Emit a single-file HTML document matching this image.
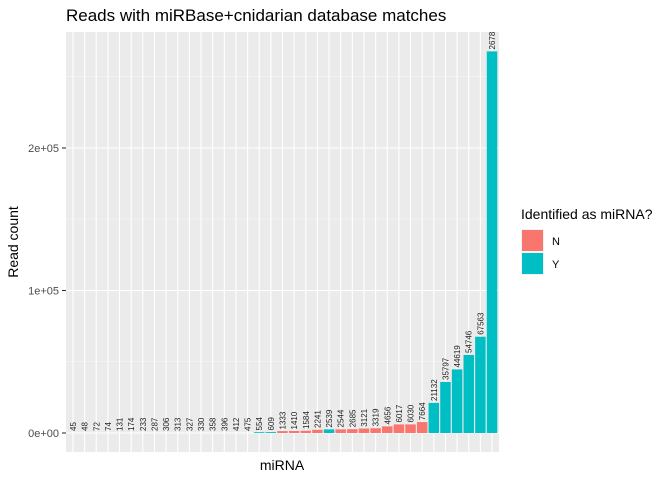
<!DOCTYPE html>
<html><head><meta charset="utf-8"><style>body{margin:0;background:#fff}svg{display:block;font-family:"Liberation Sans",sans-serif}</style></head><body>
<svg width="672" height="480" viewBox="0 0 672 480">
<rect x="66" y="32" width="433" height="420" fill="#EBEBEB"/>
<g stroke="#F5F5F5" stroke-width="0.6"><line x1="66" x2="499" y1="361.7" y2="361.7"/><line x1="66" x2="499" y1="219" y2="219"/><line x1="66" x2="499" y1="76.3" y2="76.3"/></g>
<g stroke="#fff" stroke-width="1.1"><line x1="66" x2="499" y1="433" y2="433"/><line x1="66" x2="499" y1="290.5" y2="290.5"/><line x1="66" x2="499" y1="148" y2="148"/></g>
<g stroke="#fff" stroke-width="1.1" id="vg">
<line x1="72.98" x2="72.98" y1="32" y2="452"/><line x1="84.62" x2="84.62" y1="32" y2="452"/><line x1="96.26" x2="96.26" y1="32" y2="452"/><line x1="107.9" x2="107.9" y1="32" y2="452"/><line x1="119.54" x2="119.54" y1="32" y2="452"/><line x1="131.18" x2="131.18" y1="32" y2="452"/><line x1="142.82" x2="142.82" y1="32" y2="452"/><line x1="154.46" x2="154.46" y1="32" y2="452"/><line x1="166.1" x2="166.1" y1="32" y2="452"/><line x1="177.74" x2="177.74" y1="32" y2="452"/><line x1="189.38" x2="189.38" y1="32" y2="452"/><line x1="201.02" x2="201.02" y1="32" y2="452"/><line x1="212.66" x2="212.66" y1="32" y2="452"/><line x1="224.3" x2="224.3" y1="32" y2="452"/><line x1="235.94" x2="235.94" y1="32" y2="452"/><line x1="247.58" x2="247.58" y1="32" y2="452"/><line x1="259.22" x2="259.22" y1="32" y2="452"/><line x1="270.86" x2="270.86" y1="32" y2="452"/><line x1="282.5" x2="282.5" y1="32" y2="452"/><line x1="294.14" x2="294.14" y1="32" y2="452"/><line x1="305.78" x2="305.78" y1="32" y2="452"/><line x1="317.42" x2="317.42" y1="32" y2="452"/><line x1="329.06" x2="329.06" y1="32" y2="452"/><line x1="340.7" x2="340.7" y1="32" y2="452"/><line x1="352.34" x2="352.34" y1="32" y2="452"/><line x1="363.98" x2="363.98" y1="32" y2="452"/><line x1="375.62" x2="375.62" y1="32" y2="452"/><line x1="387.26" x2="387.26" y1="32" y2="452"/><line x1="398.9" x2="398.9" y1="32" y2="452"/><line x1="410.54" x2="410.54" y1="32" y2="452"/><line x1="422.18" x2="422.18" y1="32" y2="452"/><line x1="433.82" x2="433.82" y1="32" y2="452"/><line x1="445.46" x2="445.46" y1="32" y2="452"/><line x1="457.1" x2="457.1" y1="32" y2="452"/><line x1="468.74" x2="468.74" y1="32" y2="452"/><line x1="480.38" x2="480.38" y1="32" y2="452"/><line x1="492.02" x2="492.02" y1="32" y2="452"/>
</g>
<g fill="#F8766D">
<rect x="277.26" y="431.1" width="10.48" height="1.9"/><rect x="288.9" y="431" width="10.48" height="2"/><rect x="300.54" y="430.74" width="10.48" height="2.26"/><rect x="312.18" y="429.81" width="10.48" height="3.19"/>
<rect x="335.46" y="429.37" width="10.48" height="3.63"/><rect x="347.1" y="429.17" width="10.48" height="3.83"/><rect x="358.74" y="428.55" width="10.48" height="4.45"/><rect x="370.38" y="428.27" width="10.48" height="4.73"/><rect x="382.02" y="426.37" width="10.48" height="6.63"/><rect x="393.66" y="424.43" width="10.48" height="8.57"/><rect x="405.3" y="424.41" width="10.48" height="8.59"/><rect x="416.94" y="422.08" width="10.48" height="10.92"/>
</g>
<g fill="#00BFC4">
<rect x="253.98" y="432.2" width="10.48" height="0.8"/><rect x="265.62" y="432.1" width="10.48" height="0.9"/><rect x="323.82" y="429.38" width="10.48" height="3.62"/>
<rect x="428.58" y="402.89" width="10.48" height="30.11"/><rect x="440.22" y="381.99" width="10.48" height="51.01"/><rect x="451.86" y="369.42" width="10.48" height="63.58"/><rect x="463.5" y="354.99" width="10.48" height="78.01"/><rect x="475.14" y="336.72" width="10.48" height="96.28"/><rect x="486.78" y="51.4" width="10.48" height="381.6"/>
</g>
<g font-size="8" fill="#222">
<text transform="translate(75.98,431) rotate(-90)">45</text><text transform="translate(87.62,431) rotate(-90)">48</text><text transform="translate(99.26,431) rotate(-90)">72</text><text transform="translate(110.9,431) rotate(-90)">74</text><text transform="translate(122.54,431) rotate(-90)">131</text><text transform="translate(134.18,431) rotate(-90)">174</text><text transform="translate(145.82,431) rotate(-90)">233</text><text transform="translate(157.46,431) rotate(-90)">287</text><text transform="translate(169.1,431) rotate(-90)">306</text><text transform="translate(180.74,431) rotate(-90)">313</text><text transform="translate(192.38,431) rotate(-90)">327</text><text transform="translate(204.02,431) rotate(-90)">330</text><text transform="translate(215.66,431) rotate(-90)">358</text><text transform="translate(227.3,431) rotate(-90)">396</text><text transform="translate(238.94,431) rotate(-90)">412</text><text transform="translate(250.58,431) rotate(-90)">475</text>
<text transform="translate(262.22,430.5) rotate(-90)">554</text><text transform="translate(273.86,430.5) rotate(-90)">609</text><text transform="translate(285.5,429.5) rotate(-90)">1333</text><text transform="translate(297.14,429.5) rotate(-90)">1410</text><text transform="translate(308.78,429) rotate(-90)">1584</text><text transform="translate(320.42,428) rotate(-90)">2241</text><text transform="translate(332.06,427.5) rotate(-90)">2539</text><text transform="translate(343.7,427.5) rotate(-90)">2544</text><text transform="translate(355.34,427.3) rotate(-90)">2685</text><text transform="translate(366.98,426.7) rotate(-90)">3121</text><text transform="translate(378.62,426.4) rotate(-90)">3319</text><text transform="translate(390.26,424.5) rotate(-90)">4656</text><text transform="translate(401.9,422.5) rotate(-90)">6017</text><text transform="translate(413.54,422.5) rotate(-90)">6030</text><text transform="translate(425.18,420.2) rotate(-90)">7664</text><text transform="translate(436.82,401) rotate(-90)">21132</text><text transform="translate(448.46,380) rotate(-90)">35797</text><text transform="translate(460.1,367.5) rotate(-90)">44619</text><text transform="translate(471.74,353) rotate(-90)">54746</text><text transform="translate(483.38,334.8) rotate(-90)">67563</text><text transform="translate(495.02,49.5) rotate(-90)">2678</text>
</g>
<g stroke="#333" stroke-width="1.1"><line x1="62" x2="66" y1="433" y2="433"/><line x1="62" x2="66" y1="290.5" y2="290.5"/><line x1="62" x2="66" y1="148" y2="148"/></g>
<g font-size="11" fill="#4D4D4D" text-anchor="end"><text x="59" y="437">0e+00</text><text x="59" y="294.5">1e+05</text><text x="59" y="152">2e+05</text></g>
<text x="282" y="470" font-size="14" text-anchor="middle">miRNA</text>
<text transform="translate(18,242) rotate(-90)" font-size="14" text-anchor="middle">Read count</text>
<text x="66" y="21" font-size="17">Reads with miRBase+cnidarian database matches</text>
<text x="521" y="219" font-size="14">Identified as miRNA?</text>
<rect x="521" y="229" width="23" height="23" fill="#F2F2F2"/><rect x="522" y="230" width="21" height="21" fill="#F8766D"/>
<rect x="521" y="252" width="23" height="23" fill="#F2F2F2"/><rect x="522" y="253" width="21" height="21" fill="#00BFC4"/>
<text x="552" y="245" font-size="11">N</text><text x="552" y="268" font-size="11">Y</text>
</svg>
</body></html>
